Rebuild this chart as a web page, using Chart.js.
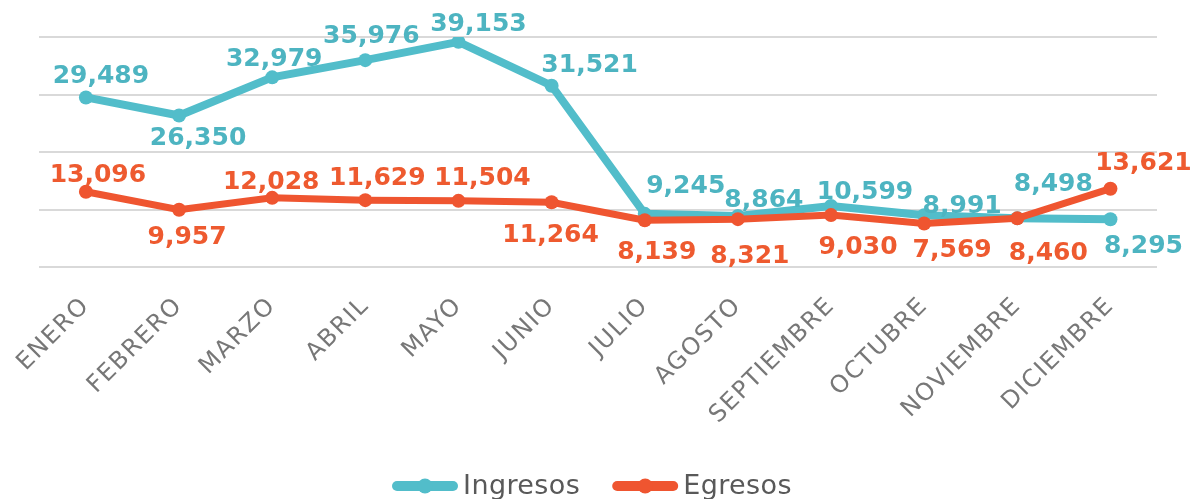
<!DOCTYPE html>
<html>
<head>
<meta charset="utf-8">
<script src="https://cdn.jsdelivr.net/npm/chart.js@4/dist/chart.umd.min.js"></script>
<style>
  html, body { margin: 0; padding: 0; background: #ffffff; }
  #wrap { width: 1194px; height: 499px; }
</style>
</head>
<body>
<div id="wrap"><canvas id="c" width="1194" height="499"></canvas></div>
<script>
// ---- data ----
const months = ["ENERO","FEBRERO","MARZO","ABRIL","MAYO","JUNIO","JULIO","AGOSTO","SEPTIEMBRE","OCTUBRE","NOVIEMBRE","DICIEMBRE"];
const ingresos = [29489, 26350, 32979, 35976, 39153, 31521, 9245, 8864, 10599, 8991, 8498, 8295];
const egresos  = [13096, 9957, 12028, 11629, 11504, 11264, 8139, 8321, 9030, 7569, 8460, 13621];
const seriesNames = ["Ingresos", "Egresos"];
const yTicks = [0, 10000, 20000, 30000, 40000];

// ---- styling ----
const TEAL = "#52BDCA", TEAL_TXT = "#4DB4C1";
const ORANGE = "#EF5530", ORANGE_TXT = "#EE5A2F";
// label offsets (dx, dy) relative to each point
const ingresosLabelOffsets = [[15,-21],[19,23],[2,-18],[6,-24],[20,-17],[38,-20],[41,-27],[26,-16],[34,-14],[38,-9],[36,-34],[33,27]];
const egresosLabelOffsets  = [[12,-16],[8,28],[-1,-15],[12,-22],[24,-22],[-1,33],[12,32],[12,37],[27,32],[28,27],[31,35],[33,-25]];

const fmt = v => v.toLocaleString("en-US");

const tickSpacing = {
  id: "tickSpacing",
  beforeDraw(chart) { chart.ctx.letterSpacing = "1.5px"; }
};

const valueLabels = {
  id: "valueLabels",
  afterDatasetsDraw(chart) {
    const ctx = chart.ctx;
    ctx.save();
    ctx.letterSpacing = "0px";
    ctx.font = "bold 25px 'DejaVu Sans'";
    ctx.textAlign = "center";
    ctx.textBaseline = "middle";
    chart.data.datasets.forEach((ds, di) => {
      const meta = chart.getDatasetMeta(di);
      ctx.fillStyle = ds.labelColor;
      meta.data.forEach((pt, i) => {
        const off = ds.labelOffsets[i];
        ctx.fillText(fmt(ds.data[i]), pt.x + off[0], pt.y + off[1]);
      });
    });
    ctx.restore();
  }
};

const customLegend = {
  id: "customLegend",
  afterDraw(chart) {
    const ctx = chart.ctx;
    ctx.save();
    ctx.letterSpacing = "0.4px";
    ctx.font = "27px 'DejaVu Sans'";
    ctx.textBaseline = "middle";
    const y = 486;
    const lineW = 66, gapText = 5, gapItem = 32;
    const items = [chart.data.datasets[1], chart.data.datasets[0]]; // Ingresos, Egresos
    let total = 0;
    items.forEach(ds => { total += lineW + gapText + ctx.measureText(ds.label).width; });
    total += gapItem * (items.length - 1);
    let x = (chart.width - total) / 2 - 5;
    items.forEach(ds => {
      ctx.strokeStyle = ds.borderColor;
      ctx.lineWidth = 10;
      ctx.lineCap = "round";
      ctx.beginPath();
      ctx.moveTo(x + 5, y);
      ctx.lineTo(x + lineW - 5, y);
      ctx.stroke();
      ctx.fillStyle = ds.borderColor;
      ctx.beginPath();
      ctx.arc(x + lineW / 2, y, 7.5, 0, Math.PI * 2);
      ctx.fill();
      ctx.fillStyle = "#595959";
      ctx.fillText(ds.label, x + lineW + gapText, y + 1);
      x += lineW + gapText + ctx.measureText(ds.label).width + gapItem;
    });
    ctx.restore();
  }
};

new Chart(document.getElementById("c"), {
  type: "line",
  data: {
    labels: months,
    datasets: [
      {
        label: seriesNames[1], data: egresos, order: 0,
        borderColor: ORANGE, backgroundColor: ORANGE, borderWidth: 7,
        pointRadius: 7, pointHoverRadius: 7, pointBackgroundColor: ORANGE, pointBorderWidth: 0,
        tension: 0, labelColor: ORANGE_TXT, labelOffsets: egresosLabelOffsets
      },
      {
        label: seriesNames[0], data: ingresos, order: 1,
        borderColor: TEAL, backgroundColor: TEAL, borderWidth: 8,
        pointRadius: 7, pointHoverRadius: 7, pointBackgroundColor: TEAL, pointBorderWidth: 0,
        tension: 0, labelColor: TEAL_TXT, labelOffsets: ingresosLabelOffsets
      }
    ]
  },
  options: {
    responsive: false,
    animation: false,
    layout: { padding: { left: 39, right: 37, top: 37, bottom: 62 } },
    plugins: { legend: { display: false }, tooltip: { enabled: false } },
    scales: {
      x: {
        offset: true,
        grid: { display: false, drawTicks: false },
        border: { display: false },
        ticks: {
          minRotation: 45, maxRotation: 45, padding: 25,
          color: "#777777", font: { family: "'DejaVu Sans'", size: 24 }
        },
        afterFit: s => { s.height = 170; }
      },
      y: {
        min: 0, max: 40000,
        afterBuildTicks: s => { s.ticks = yTicks.map(v => ({ value: v })); },
        grid: { color: "#D9D9D9", lineWidth: 2, drawTicks: false },
        border: { display: false },
        ticks: { display: false },
        afterFit: s => { s.width = 0; }
      }
    }
  },
  plugins: [tickSpacing, valueLabels, customLegend]
});
</script>
</body>
</html>
